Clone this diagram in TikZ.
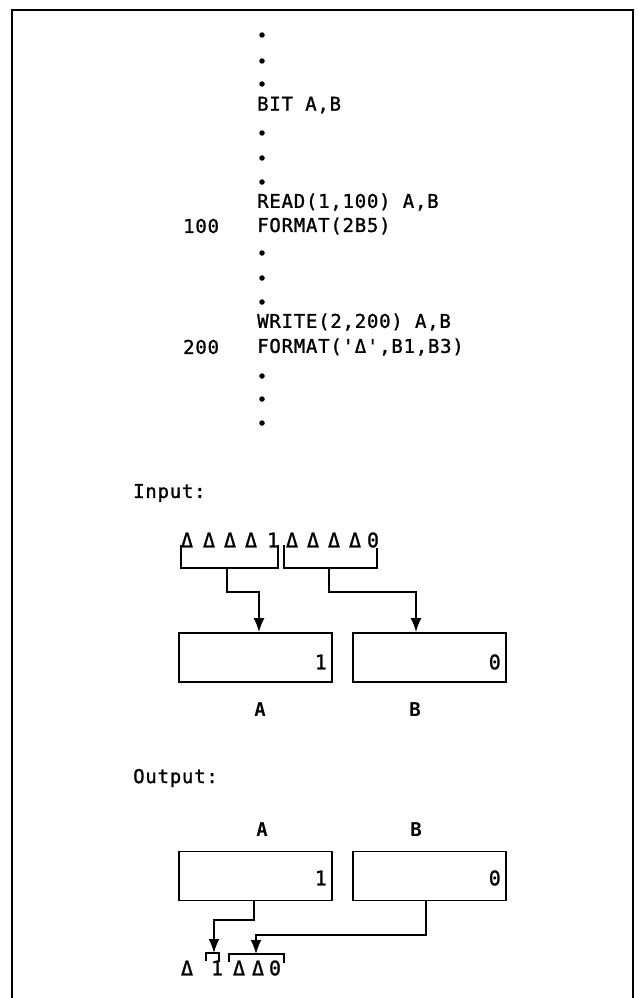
\documentclass[tikz,border=0pt]{standalone}
\usepackage{fontspec}
\usetikzlibrary{arrows.meta}
\newfontfamily\codefont[LetterSpace=4,FakeBold=1.2]{DejaVu Sans Mono}
\newfontfamily\symfont[FakeBold=1.2]{DejaVu Sans Mono}
\newfontfamily\lblfont{DejaVu Sans Mono}
\begin{document}
\begin{tikzpicture}[x=1pt,y=-1pt,
  txt/.style={font=\codefont\fontsize{19}{22}\selectfont, inner sep=0pt, anchor=west},
  sym/.style={font=\symfont\fontsize{20}{22}\selectfont, inner sep=0pt},
  lbl/.style={font=\lblfont\bfseries\fontsize{19}{22}\selectfont, inner sep=0pt},
  reg/.style={draw, line width=1.8pt, minimum width=153pt, minimum height=49pt, inner sep=0pt},
  ln/.style={line width=1.8pt},
  arr/.style={line width=1.8pt, -{Latex[length=14pt,width=11pt]}},
  dot/.style={fill, circle, inner sep=0pt, minimum size=5.5pt}
]
\useasboundingbox (0,0) rectangle (638,998);
% frame
\draw[line width=2.2pt] (12,998) -- (12,10) -- (633,10) -- (633,998);

% code listing
\foreach \y [count=\i] in {35,61,84,133,158,182,253,278,302,376,399,423}
  \node[dot] (d\i) at (262,\y) {};
\node[txt] (bit) at (257,105) {BIT A,B};
\node[txt] (read) at (257,202) {READ(1,100) A,B};
\node[txt] (l100) at (183,226) {100};
\node[txt] (fmt1) at (257,226) {FORMAT(2B5)};
\node[txt] (write) at (257,322) {WRITE(2,200) A,B};
\node[txt] (l200) at (183,347) {200};
\node[txt] (fmt2) at (257,347) {FORMAT('Δ',B1,B3)};

% input
\node[txt] (inp) at (133,493) {Input:};
\foreach \x/\c [count=\i] in {187/Δ,209/Δ,230/Δ,251/Δ,273/1,292/Δ,313/Δ,334/Δ,355/Δ,373/0}
  \node[sym] (ic\i) at (\x,540) {\c};
\draw[ln] (181,545) -- (181,568) -- (278,568) -- (278,545);
\draw[ln] (284,545) -- (284,568) -- (377,568) -- (377,548);
\coordinate (b1) at (227,568);
\coordinate (b2) at (329,568);
\node[reg] (inA) at (255.5,657.5) {};
\node[reg] (inB) at (429.5,657.5) {};
\node[sym, anchor=east] (inAv) at (327,662) {1};
\node[sym, anchor=east] (inBv) at (501,662) {0};
\coordinate (t1) at (259,592);
\coordinate (t2) at (416,592);
\draw[arr] (b1) |- (t1) -- (t1 |- inA.north);
\draw[arr] (b2) |- (t2) -- (t2 |- inB.north);
\node[lbl] (labA1) at (260,710) {A};
\node[lbl] (labB1) at (415,710) {B};

% output
\node[txt] (outp) at (133,778) {Output:};
\node[lbl] (labA2) at (262,830) {A};
\node[lbl] (labB2) at (416,830) {B};
\node[reg] (outA) at (255.5,876) {};
\node[reg] (outB) at (429.5,876) {};
\node[sym, anchor=east] (outAv) at (327,878) {1};
\node[sym, anchor=east] (outBv) at (501,878) {0};
\foreach \x/\c [count=\i] in {187/Δ,217/1,239/Δ,258/Δ,275/0}
  \node[sym] (oc\i) at (\x,968) {\c};
\draw[ln] (206,961) -- (206,953) -- (219,953) -- (219,962);
\draw[ln] (229,962) -- (229,954) -- (284,954) -- (284,963);
\coordinate (e1) at (214,953);
\coordinate (e2) at (256,954);
\coordinate (s1) at (254,920);
\coordinate (s2) at (426,935);
\draw[arr] (outA.south -| s1) |- (s1 -| e1) -- (e1);
\draw[arr] (outB.south -| s2) |- (s2 -| e2) -- (e2);
\end{tikzpicture}
\end{document}
